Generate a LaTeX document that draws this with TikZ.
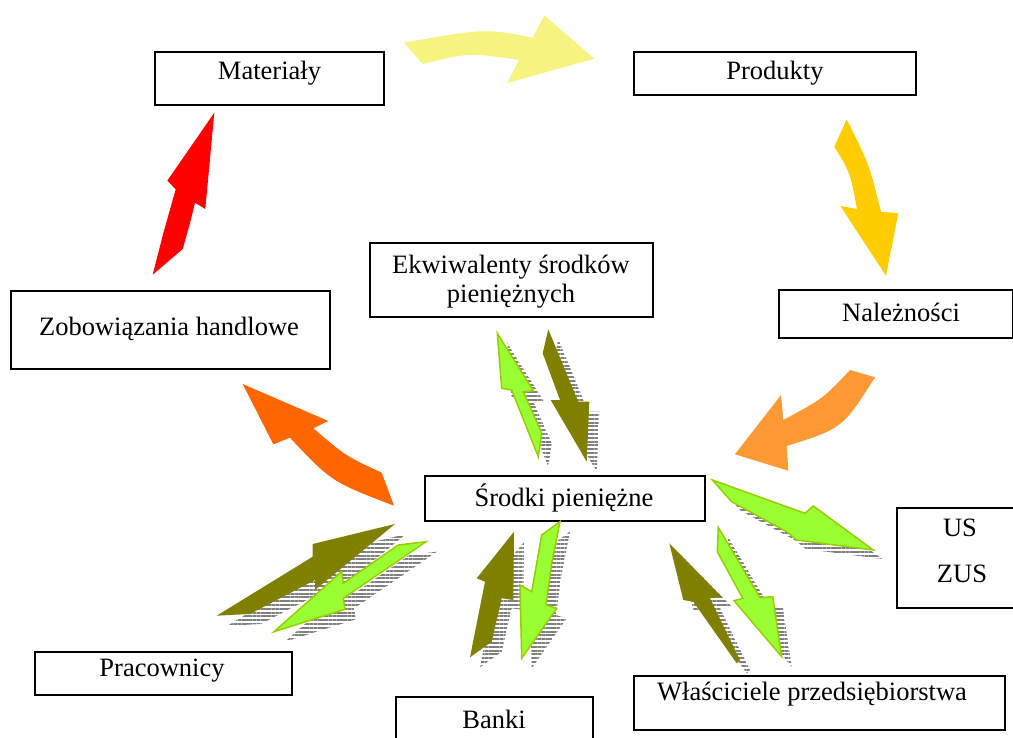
\documentclass[tikz,border=0pt]{standalone}
\usepackage{fontspec}
\setmainfont{Liberation Serif}
\usetikzlibrary{patterns.meta}
\definecolor{cyel}{RGB}{247,243,128}
\definecolor{cgold}{RGB}{255,204,0}
\definecolor{cred}{RGB}{255,0,0}
\definecolor{corange}{RGB}{255,102,0}
\definecolor{clorange}{RGB}{255,153,51}
\definecolor{colive}{RGB}{128,128,0}
\definecolor{clime}{RGB}{153,255,51}
\definecolor{climeedge}{RGB}{153,204,0}
\definecolor{cstripe}{RGB}{128,128,128}
\tikzset{
  boxnode/.style={draw=black, line width=2.5pt, inner sep=0pt},
  txt/.style={font=\fontsize{26.5}{29}\selectfont, inner sep=0pt, align=center},
  stripeshadow/.style={pattern={Lines[angle=0,distance=3.8pt,line width=2.1pt]}, pattern color=cstripe},
  olivearrow/.style={fill=colive},
  limearrow/.style={fill=clime, draw=climeedge, line width=1.5pt, line join=miter},
}
\begin{document}
\begin{tikzpicture}[x=1pt,y=-1pt]
\useasboundingbox (0,0) rectangle (1013,738);
% ---------- boxes ----------
\node[boxnode, minimum width=229pt, minimum height=53pt] (bmat) at (269.5,78.5) {};
\node[txt] (tmat) at (269.5,73) {Materiały};
\node[boxnode, minimum width=282pt, minimum height=43pt] (bprod) at (775,73.5) {};
\node[txt] (tprod) at (775,73) {Produkty};
\node[boxnode, minimum width=234pt, minimum height=48pt] (bnal) at (896,314) {};
\node[txt] (tnal) at (901,312) {Należności};
\node[boxnode, minimum width=319pt, minimum height=78pt] (bzob) at (170.5,330) {};
\node[txt] (tzob) at (169,329) {Zobowiązania handlowe};
\node[boxnode, minimum width=283pt, minimum height=74pt] (bekw) at (511.5,280) {};
\node[txt] (tekw) at (511,282) {Ekwiwalenty środków\\pieniężnych};
\node[boxnode, minimum width=280pt, minimum height=45pt] (bsro) at (565,498.5) {};
\node[txt] (tsro) at (564,498) {Środki pieniężne};
\node[boxnode, minimum width=118pt, minimum height=100pt] (bus) at (956,558) {};
\node[txt] (tus) at (960,528) {US};
\node[txt] (tzus) at (962,574) {ZUS};
\node[boxnode, minimum width=257pt, minimum height=43pt] (bpra) at (163.5,673.5) {};
\node[txt] (tpra) at (162,671) {Pracownicy};
\node[boxnode, minimum width=197pt, minimum height=60pt] (bban) at (494.5,727) {};
\node[txt] (tban) at (494,719) {Banki};
\node[boxnode, minimum width=371pt, minimum height=54pt] (bwla) at (819.5,703) {};
\node[txt] (twla) at (812,694) {Właściciele przedsiębiorstwa};
% ---------- cycle arrows ----------
\fill[cyel] (404,42.7) -- (422.7,64) .. controls (469.15,52.6) .. (519,60) -- (507.3,83) -- (594.3,58.7) -- (544.3,15.3) -- (532.7,37.7) .. controls (485.05,28.4) .. (404,42.7) -- cycle;
\fill[cgold] (846.7,119.3) .. controls (869.5,165.1) .. (881,211.7) -- (898.3,213.3) -- (886,275.7) -- (840.3,206) -- (857,209) .. controls (850,172.15) .. (834.3,146.7) -- cycle;
\fill[cred] (214.3,112.7) -- (205.3,209) -- (195,202.7) -- (190,223.3) -- (182.7,249) -- (152.7,274.7) -- (163.3,233.3) -- (175.7,189.3) -- (167.3,180.7) -- cycle;
\fill[corange] (242.7,384) -- (328.3,421) -- (313.3,428.3) .. controls (345.9,456.1) .. (381.7,472.7) -- (394,505.7) .. controls (331.4,481.7) .. (290,437.7) -- (273.3,444.3) -- cycle;
\fill[clorange] (850,370) -- (875,377.3) .. controls (842.55,428.35) .. (786.7,446) -- (788.3,470.7) -- (735,454.3) -- (781,395) -- (783.3,420) .. controls (823.35,398.4) .. (850,370) -- cycle;
% ---------- double arrows ----------
\def\greenA{(497.3,333.3) -- (533.3,390.7) -- (523.3,391.7) -- (541.7,433.3) -- (538.3,456.7) -- (511.7,390) -- (501.7,388.3) -- cycle}
\def\oliveA{(548.3,329.3) -- (542.7,353.3) -- (560,400) -- (550.7,400) -- (586.7,461.7) -- (589.3,401.7) -- (578.3,401.7) -- cycle}
\def\oliveB{(216.7,615.7) -- (312.7,556.7) -- (312.7,544) -- (395,524) -- (315,590) -- (315,580) -- (250,614) -- cycle}
\def\greenB{(426,541.7) -- (398.3,545) -- (343.3,583.3) -- (341.7,571.7) -- (274,631.7) -- (345,609.3) -- (343.3,598.3) -- cycle}
\def\oliveC{(514,531.7) -- (513.3,600) -- (501.7,598.3) -- (491.7,641.7) -- (470,657.3) -- (485,581.7) -- (476.7,578.3) -- cycle}
\def\greenC{(560,521.7) -- (541.7,535) -- (531.7,591.7) -- (520,585) -- (521.7,658.3) -- (556.7,608.3) -- (546,605) -- (551.7,563.3) -- cycle}
\def\greenD{(712.3,480) -- (731.7,501.7) -- (786.7,531.7) -- (796.7,540) -- (873.3,550) -- (813.3,506) -- (805,513.3) -- cycle}
\def\oliveE{(669.3,543.3) -- (721.7,596.7) -- (710,598.3) -- (740,660) -- (736.7,663.3) -- (693.3,601.7) -- (683.3,600) -- cycle}
\def\greenE{(718.3,527.3) -- (717.3,551.7) -- (742.7,598.3) -- (734,600.7) -- (781.7,656.7) -- (772.7,596.7) -- (760,597.7) -- cycle}
% pair to Ekwiwalenty
\path[stripeshadow, shift={(10,10)}] \oliveA;
\path[olivearrow] \oliveA;
\path[stripeshadow, shift={(10,10)}] \greenA;
\path[limearrow] \greenA;
% pair to Pracownicy
\path[stripeshadow, shift={(11,10)}] \oliveB;
\path[olivearrow] \oliveB;
\path[stripeshadow, shift={(11,10)}] \greenB;
\path[limearrow] \greenB;
% pair to Banki
\path[stripeshadow, shift={(10,10)}] \oliveC;
\path[olivearrow] \oliveC;
\path[stripeshadow, shift={(10,10)}] \greenC;
\path[limearrow] \greenC;
% to US
\path[stripeshadow, shift={(9,9)}] \greenD;
\path[limearrow] \greenD;
% pair to Wlasciciele
\path[stripeshadow, shift={(10,10)}] \oliveE;
\path[olivearrow] \oliveE;
\path[stripeshadow, shift={(10,10)}] \greenE;
\path[limearrow] \greenE;
\end{tikzpicture}
\end{document}
